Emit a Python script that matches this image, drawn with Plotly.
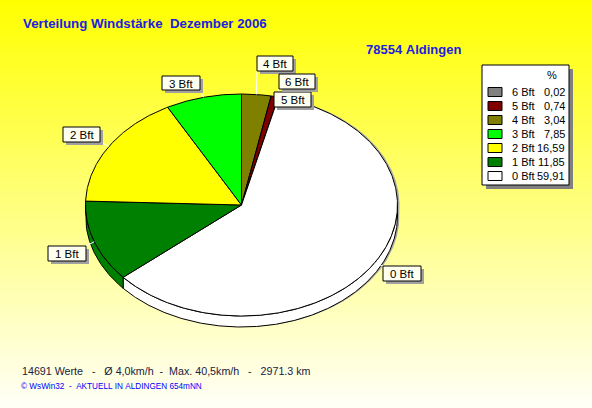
import numpy as np
import plotly.graph_objects as go

# ---------------- data ----------------
categories = ["6 Bft", "5 Bft", "4 Bft", "3 Bft", "2 Bft", "1 Bft", "0 Bft"]   # legend order
percent = [0.02, 0.74, 3.04, 7.85, 16.59, 11.85, 59.91]
slice_colors = ["#808080", "#800000", "#808000", "#00FF00", "#FFFF00", "#008000", "#FFFFFF"]
pie_order = ["4 Bft", "5 Bft", "6 Bft", "0 Bft", "1 Bft", "2 Bft", "3 Bft"]   # clockwise from 12 o'clock
title_text = "Verteilung Windstärke  Dezember 2006"
station_text = "78554 Aldingen"
summary_text = "14691 Werte   -   Ø 4,0km/h  -  Max. 40,5km/h   -   2971.3 km"
credit_text = "© WsWin32  -  AKTUELL IN ALDINGEN 654mNN"
legend_header = "%"

# ---------------- layout / style ----------------
W, H = 592, 408
FONT = "Liberation Sans, Arial, sans-serif"
CX, CY, RX, RY, DEPTH = 241.5, 205.0, 156.0, 111.0, 11.0
label_boxes = {   # x0, y0, x1, y1 (pixel space)
    "4 Bft": (257, 56, 293, 71),
    "6 Bft": (279, 74, 315, 89),
    "5 Bft": (274, 92, 311, 107),
    "3 Bft": (162, 76, 200, 90),
    "2 Bft": (63, 127, 100, 142),
    "1 Bft": (48, 246, 86, 261),
    "0 Bft": (383, 266, 421, 281),
}
color_of = dict(zip(categories, slice_colors))
value_of = dict(zip(categories, percent))


def nb(s):
    return s.replace(" ", "\u00a0")


def pt(theta, dy=0.0):
    t = np.radians(theta)
    return CX + RX * np.sin(t), CY - RY * np.cos(t) + dy


def arc(a0, a1, dy=0.0):
    n = max(2, int(abs(a1 - a0) / 0.5) + 2)
    th = np.linspace(a0, a1, n)
    xs, ys = pt(th, dy)
    return list(xs), list(ys)


fig = go.Figure()

# background gradient
shapes = []
strips = 68
for i in range(strips):
    y0 = H * i / strips
    y1 = H * (i + 1) / strips + 0.5
    f = (i + 0.5) / strips
    b = int(round(248 * f))
    shapes.append(dict(type="rect", xref="x", yref="y", x0=0, x1=W, y0=y0, y1=y1,
                       fillcolor=f"rgb(255,255,{b})", line=dict(width=0), layer="below"))

# slice angles
total = sum(value_of[c] for c in pie_order)
angles = {}
acc = 0.0
for c in pie_order:
    a0 = acc / total * 360.0
    acc += value_of[c]
    a1 = acc / total * 360.0
    angles[c] = (a0, a1)

# shadow of the pie
sx, sy = arc(-90, 90)
bx, by = arc(90, 270, DEPTH)
fig.add_trace(go.Scatter(x=[v + 2 for v in sx + bx], y=[v for v in sy + by], fill="toself",
                         fillcolor="#A8A8A0", mode="lines", line=dict(width=0),
                         hoverinfo="skip", showlegend=False))

# sides (front half)
for c in pie_order:
    a0, a1 = angles[c]
    s0, s1 = max(a0, 90.0), min(a1, 270.0)
    if s1 > s0:
        tx, ty = arc(s0, s1)
        ux, uy = arc(s1, s0, DEPTH)
        fig.add_trace(go.Scatter(x=tx + ux + [tx[0]], y=ty + uy + [ty[0]], fill="toself",
                                 fillcolor=color_of[c], mode="lines",
                                 line=dict(color="black", width=1),
                                 hoverinfo="skip", showlegend=False))

# top faces
for c in pie_order:
    a0, a1 = angles[c]
    tx, ty = arc(a0, a1)
    fig.add_trace(go.Scatter(x=[CX] + tx + [CX], y=[CY] + ty + [CY], fill="toself",
                             fillcolor=color_of[c], mode="lines",
                             line=dict(color="black", width=1),
                             hoverinfo="skip", showlegend=False, name=c))

# leader lines (white) from label box to slice mid edge
for c in pie_order:
    a0, a1 = angles[c]
    ex, ey = pt((a0 + a1) / 2)
    x0, y0, x1, y1 = label_boxes[c]
    bxp = min(max(ex, x0), x1)
    byp = min(max(ey, y0), y1)
    fig.add_trace(go.Scatter(x=[bxp, ex], y=[byp, ey], mode="lines",
                             line=dict(color="white", width=1),
                             hoverinfo="skip", showlegend=False))

annotations = []
# label boxes
for c in pie_order:
    x0, y0, x1, y1 = label_boxes[c]
    shapes.append(dict(type="rect", xref="x", yref="y", x0=x0 + 3, x1=x1 + 3, y0=y0 + 3, y1=y1 + 3,
                       fillcolor="#A0A0A0", line=dict(width=0)))
    shapes.append(dict(type="rect", xref="x", yref="y", x0=x0, x1=x1, y0=y0, y1=y1,
                       fillcolor="#FFFFF0", line=dict(color="black", width=1)))
    annotations.append(dict(x=(x0 + x1) / 2, y=(y0 + y1) / 2 + 0.5, xref="x", yref="y", text=c,
                            showarrow=False, xanchor="center", yanchor="middle",
                            font=dict(family=FONT, size=11.5, color="black")))

# legend
LX0, LY0, LX1, LY1 = 482, 65, 569, 185
shapes.append(dict(type="rect", xref="x", yref="y", x0=LX0 + 4, x1=LX1 + 4, y0=LY0 + 4, y1=LY1 + 4,
                   fillcolor="#808080", line=dict(width=0)))
shapes.append(dict(type="rect", xref="x", yref="y", x0=LX0, x1=LX1, y0=LY0, y1=LY1,
                   fillcolor="#FFFFFF", line=dict(color="black", width=1)))
annotations.append(dict(x=552, y=75, xref="x", yref="y", text=legend_header, showarrow=False,
                        xanchor="center", yanchor="middle",
                        font=dict(family=FONT, size=11, color="black")))
for i, c in enumerate(categories):
    ry = 92 + 14 * i
    shapes.append(dict(type="rect", xref="x", yref="y", x0=488, x1=502, y0=ry - 4.5, y1=ry + 4.5,
                       fillcolor=color_of[c], line=dict(color="black", width=1)))
    annotations.append(dict(x=510, y=ry, xref="x", yref="y", text=c, showarrow=False,
                            xanchor="left", yanchor="middle",
                            font=dict(family=FONT, size=11, color="black")))
    annotations.append(dict(x=567, y=ry, xref="x", yref="y",
                            text=f"{value_of[c]:.2f}".replace(".", ","), showarrow=False,
                            xanchor="right", yanchor="middle",
                            font=dict(family=FONT, size=11, color="black")))

# texts
annotations += [
    dict(x=21, y=23, xref="x", yref="y", text="<b>" + nb(title_text) + "</b>", showarrow=False,
         xanchor="left", yanchor="middle", font=dict(family=FONT, size=13.3, color="#2020E0")),
    dict(x=364, y=49, xref="x", yref="y", text="<b>" + nb(station_text) + "</b>", showarrow=False,
         xanchor="left", yanchor="middle", font=dict(family=FONT, size=13, color="#2020E0")),
    dict(x=20, y=371, xref="x", yref="y", text=nb(summary_text), showarrow=False,
         xanchor="left", yanchor="middle", font=dict(family=FONT, size=10.7, color="#202040")),
    dict(x=19, y=386, xref="x", yref="y", text=nb(credit_text), showarrow=False,
         xanchor="left", yanchor="middle", font=dict(family=FONT, size=8.2, color="#0000FF")),
]

fig.update_layout(
    width=W, height=H, margin=dict(l=0, r=0, t=0, b=0),
    paper_bgcolor="white", plot_bgcolor="rgba(0,0,0,0)",
    xaxis=dict(range=[0, W], visible=False, fixedrange=True),
    yaxis=dict(range=[H, 0], visible=False, fixedrange=True),
    shapes=shapes, annotations=annotations, showlegend=False,
)

fig.write_html("out.html", config={"displayModeBar": False},
               post_script="document.body.style.margin='0px';document.body.style.overflow='hidden';")
